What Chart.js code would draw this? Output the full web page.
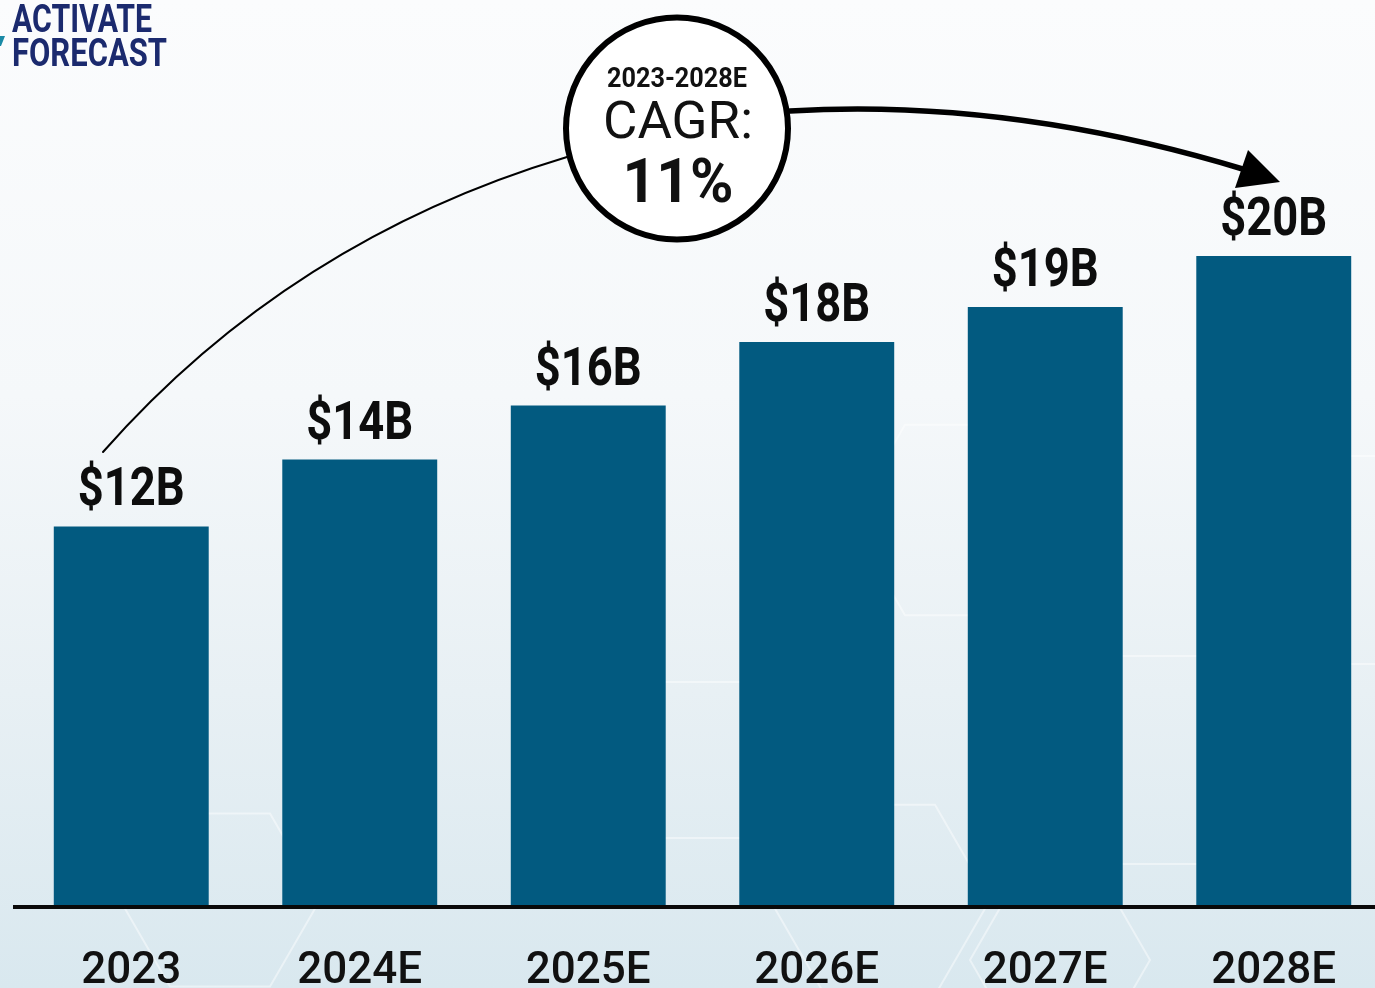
<!DOCTYPE html>
<html>
<head>
<meta charset="utf-8">
<script src="https://cdn.jsdelivr.net/npm/chart.js@4.4.1/dist/chart.umd.min.js"></script>
<style>
  html, body { margin: 0; padding: 0; width: 1375px; height: 988px; overflow: hidden; }
  body { background: linear-gradient(180deg, #fbfcfd 0%, #f5f8fa 40%, #e8f0f4 70%, #d9e8ef 100%); position: relative; }
  #wrap { position: absolute; left: 0; top: 0; width: 1400px; height: 988px; }
</style>
</head>
<body>
<div id="wrap"><canvas id="c" width="1400" height="988"></canvas></div>
<script>
const categories = ["2023", "2024E", "2025E", "2026E", "2027E", "2028E"];
const marketSize = [12.0, 14.1, 15.8, 17.8, 18.9, 20.5];
const valueLabels = ["$12B", "$14B", "$16B", "$18B", "$19B", "$20B"];
const cagrPeriod = "2023-2028E";
const cagrTitle = "CAGR:";
const cagrValue = "11%";
const brandLines = ["ACTIVATE", "FORECAST"];

function fitText(ctx, text, x, y, font, targetW, align) {
  ctx.save();
  ctx.font = font;
  const w = ctx.measureText(text).width;
  const s = targetW ? targetW / w : 1;
  ctx.translate(x, y);
  ctx.scale(s, 1);
  ctx.textBaseline = 'alphabetic';
  ctx.textAlign = align || 'center';
  ctx.fillText(text, 0, 0);
  ctx.restore();
}

const bgPlugin = {
  id: 'bgDeco',
  beforeDraw(chart) {
    const ctx = chart.ctx;
    ctx.save();
    ctx.strokeStyle = 'rgba(255,255,255,0.45)';
    ctx.lineWidth = 2;
    const hex = (cx, cy, r) => {
      ctx.beginPath();
      for (let i = 0; i < 6; i++) {
        const a = Math.PI / 3 * i;
        const px = cx + r * Math.cos(a), py = cy + r * Math.sin(a);
        i ? ctx.lineTo(px, py) : ctx.moveTo(px, py);
      }
      ctx.closePath();
      ctx.stroke();
    };
    [[960, 520, 110], [1180, 760, 120], [880, 900, 110], [1380, 560, 120], [220, 900, 100], [700, 760, 90], [1060, 960, 90]].forEach(h => hex(...h));
    ctx.restore();
  }
};

const annoPlugin = {
  id: 'anno',
  afterDatasetsDraw(chart) {
    const ctx = chart.ctx;
    const xs = chart.scales.x, ys = chart.scales.y;
    ctx.save();
    // baseline axis
    ctx.strokeStyle = '#0a0a0a';
    ctx.lineWidth = 4;
    ctx.beginPath();
    ctx.moveTo(13, 907);
    ctx.lineTo(1375, 907);
    ctx.stroke();

    // value labels
    ctx.fillStyle = '#0d0d0d';
    marketSize.forEach((v, i) => {
      const x = xs.getPixelForValue(i);
      const y = ys.getPixelForValue(v);
      fitText(ctx, valueLabels[i], x, y - 21, 'bold 53px Roboto', 107);
    });
    // category labels
    ctx.fillStyle = '#111';
    categories.forEach((c, i) => {
      const x = xs.getPixelForValue(i);
      fitText(ctx, c, x, 983, '500 44px Roboto', null);
    });

    // left thin curve
    ctx.strokeStyle = '#000';
    ctx.lineWidth = 2;
    ctx.lineCap = 'round';
    ctx.beginPath();
    ctx.moveTo(103, 452);
    ctx.quadraticCurveTo(290, 240, 567, 157);
    ctx.stroke();

    // right thick curve with arrow
    ctx.lineWidth = 5.5;
    ctx.beginPath();
    ctx.moveTo(790, 111);
    ctx.quadraticCurveTo(1010, 98, 1246, 170);
    ctx.stroke();
    ctx.beginPath();
    ctx.moveTo(1248, 150);
    ctx.lineTo(1280, 182);
    ctx.lineTo(1235, 188);
    ctx.closePath();
    ctx.fillStyle = '#000';
    ctx.fill();

    // CAGR circle
    ctx.beginPath();
    ctx.arc(677, 128.5, 111, 0, Math.PI * 2);
    ctx.fillStyle = '#ffffff';
    ctx.fill();
    ctx.lineWidth = 6;
    ctx.strokeStyle = '#000';
    ctx.stroke();
    ctx.fillStyle = '#111';
    fitText(ctx, cagrPeriod, 677, 87, 'bold 28px Roboto', 140);
    fitText(ctx, cagrTitle, 678, 138, '400 51px Roboto', 150);
    fitText(ctx, cagrValue, 678, 202, 'bold 62px Roboto', 111);

    // brand
    ctx.fillStyle = '#1b2a6e';
    fitText(ctx, brandLines[0], 12, 32, 'bold 39px Roboto', 140, 'left');
    fitText(ctx, brandLines[1], 12, 66, 'bold 39px Roboto', 155, 'left');
    ctx.fillStyle = '#1a8aa6';
    ctx.beginPath();
    ctx.moveTo(0, 36);
    ctx.lineTo(5, 36);
    ctx.lineTo(1, 46);
    ctx.lineTo(0, 46);
    ctx.closePath();
    ctx.fill();
    ctx.restore();
  }
};

new Chart(document.getElementById('c'), {
  type: 'bar',
  data: {
    labels: categories,
    datasets: [{
      data: marketSize,
      backgroundColor: '#025a80',
      borderWidth: 0,
      categoryPercentage: 1.0,
      barPercentage: 0.678
    }]
  },
  options: {
    responsive: false,
    animation: false,
    events: [],
    layout: { padding: { left: 17, right: 12, top: 113, bottom: 80 } },
    plugins: { legend: { display: false }, tooltip: { enabled: false } },
    scales: {
      x: { display: false },
      y: { display: false, min: 0, max: 25 }
    }
  },
  plugins: [bgPlugin, annoPlugin]
});
</script>
</body>
</html>
